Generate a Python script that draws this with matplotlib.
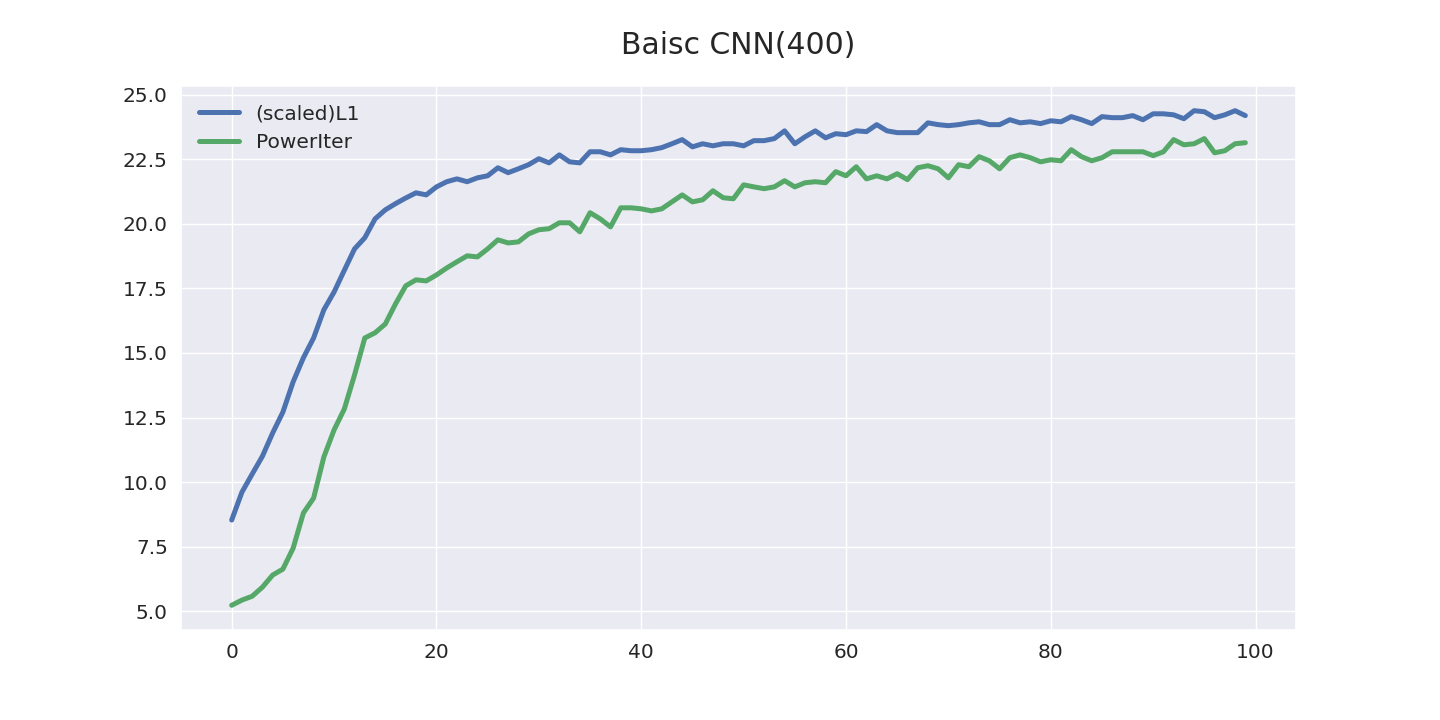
import matplotlib
matplotlib.use("Agg")
import matplotlib.pyplot as plt
import seaborn as sns
import numpy as np

epochs = list(range(100))
l1_scaled = [8.53, 9.61, 10.31, 11.0, 11.9, 12.71, 13.88, 14.81, 15.58, 16.67,
             17.36, 18.2, 19.03, 19.46, 20.19, 20.54, 20.78, 21.0, 21.2, 21.12,
             21.43, 21.63, 21.74, 21.63, 21.78, 21.86, 22.17, 21.98, 22.13, 22.29,
             22.52, 22.36, 22.67, 22.4, 22.36, 22.79, 22.79, 22.67, 22.87, 22.83,
             22.83, 22.87, 22.95, 23.1, 23.26, 22.98, 23.1, 23.02, 23.1, 23.1,
             23.02, 23.22, 23.22, 23.3, 23.6, 23.1, 23.37, 23.6, 23.33, 23.49,
             23.45, 23.6, 23.57, 23.84, 23.6, 23.53, 23.53, 23.53, 23.91, 23.84,
             23.8, 23.84, 23.91, 23.95, 23.84, 23.84, 24.03, 23.91, 23.95, 23.88,
             23.99, 23.95, 24.15, 24.03, 23.88, 24.15, 24.11, 24.11, 24.19, 24.03,
             24.26, 24.26, 24.22, 24.07, 24.38, 24.34, 24.11, 24.22, 24.38, 24.19]
power_iter = [5.23, 5.43, 5.58, 5.93, 6.4, 6.63, 7.44, 8.8, 9.38, 10.97,
              12.02, 12.83, 14.15, 15.58, 15.78, 16.12, 16.9, 17.6, 17.83, 17.79,
              18.02, 18.29, 18.53, 18.76, 18.72, 19.03, 19.38, 19.26, 19.3, 19.61,
              19.77, 19.81, 20.04, 20.04, 19.69, 20.43, 20.19, 19.88, 20.62, 20.62,
              20.58, 20.5, 20.58, 20.85, 21.12, 20.85, 20.93, 21.28, 21.01, 20.97,
              21.51, 21.43, 21.36, 21.43, 21.67, 21.43, 21.59, 21.63, 21.59, 22.02,
              21.86, 22.21, 21.74, 21.86, 21.74, 21.94, 21.71, 22.17, 22.25, 22.13,
              21.78, 22.29, 22.21, 22.6, 22.44, 22.13, 22.56, 22.67, 22.56, 22.4,
              22.48, 22.44, 22.87, 22.6, 22.44, 22.56, 22.79, 22.79, 22.79, 22.79,
              22.64, 22.79, 23.26, 23.06, 23.1, 23.3, 22.75, 22.83, 23.1, 23.14]
series_names = ["(scaled)L1", "PowerIter"]
title = "Baisc CNN(400)"

sns.set_theme(style="darkgrid")
plt.rcParams['font.family'] = ['DejaVu Sans']

fig, ax = plt.subplots(figsize=(14.4, 7.2), dpi=100)
fig.subplots_adjust(left=0.1257, right=0.9, top=0.8806, bottom=0.125)

ax.plot(epochs, l1_scaled, color="#4c72b0", lw=3.6, label=series_names[0])
ax.plot(epochs, power_iter, color="#55a868", lw=3.6, label=series_names[1])

ax.set_yticks([5.0, 7.5, 10.0, 12.5, 15.0, 17.5, 20.0, 22.5, 25.0])
ax.set_xticks([0, 20, 40, 60, 80, 100])
ax.tick_params(labelsize=14.5)
ax.legend(loc="upper left", fontsize=14.5, frameon=False, handlelength=2.0)
ax.set_title(title, fontsize=21.5, pad=23)

fig.savefig("out.png", dpi=100)
